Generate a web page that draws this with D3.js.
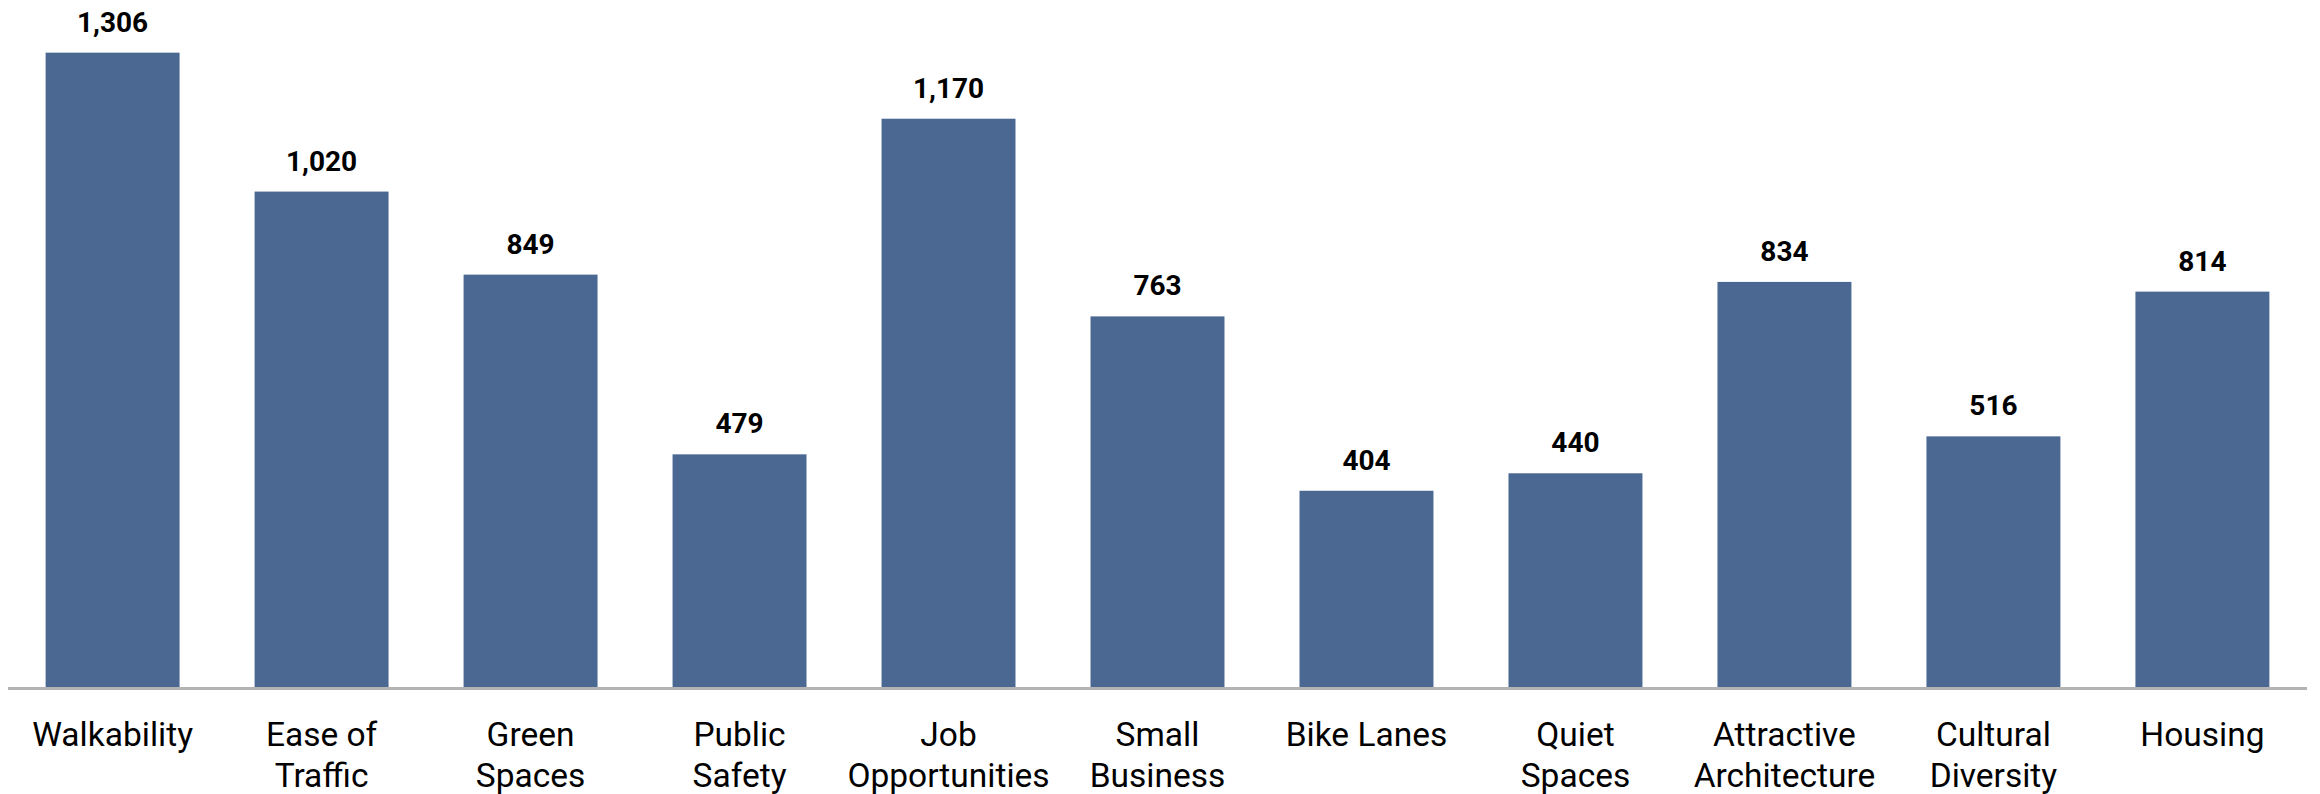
<!DOCTYPE html>
<html>
<head>
<meta charset="utf-8">
<script src="https://cdn.jsdelivr.net/npm/d3@7"></script>
<style>
  html, body { margin: 0; padding: 0; background: #ffffff; }
  svg { display: block; }
</style>
</head>
<body>
<div id="chart"></div>
<script>
const categories = ["Walkability", "Ease of Traffic", "Green Spaces", "Public Safety", "Job Opportunities", "Small Business", "Bike Lanes", "Quiet Spaces", "Attractive Architecture", "Cultural Diversity", "Housing"];
const labelLines = [["Walkability"], ["Ease of", "Traffic"], ["Green", "Spaces"], ["Public", "Safety"], ["Job", "Opportunities"], ["Small", "Business"], ["Bike Lanes"], ["Quiet", "Spaces"], ["Attractive", "Architecture"], ["Cultural", "Diversity"], ["Housing"]];
const values = [1306, 1020, 849, 479, 1170, 763, 404, 440, 834, 516, 814];
const yDomain = [0, 1400];

const W = 2320, H = 794;
const left = 8, right = 2307, baseY = 687, topY = 7;

const svg = d3.select("#chart").append("svg").attr("width", W).attr("height", H);

const x = d3.scaleBand().domain(categories).range([left, right]).paddingInner(0.359).paddingOuter(0.18);
const y = d3.scaleLinear().domain(yDomain).range([baseY, topY]);

svg.append("g").selectAll("rect").data(values).join("rect")
  .attr("x", (d, i) => x(categories[i]))
  .attr("y", d => y(d))
  .attr("width", x.bandwidth())
  .attr("height", d => y(0) - y(d))
  .attr("fill", "#4a6892");

svg.append("g").selectAll("text").data(values).join("text")
  .attr("x", (d, i) => x(categories[i]) + x.bandwidth() / 2)
  .attr("y", d => y(d) - 21)
  .attr("text-anchor", "middle")
  .attr("font-family", "Roboto, sans-serif")
  .attr("font-weight", "bold")
  .attr("font-size", 28)
  .attr("fill", "#000")
  .text(d => d3.format(",")(d));

svg.append("line")
  .attr("x1", left).attr("x2", right)
  .attr("y1", baseY + 1.5).attr("y2", baseY + 1.5)
  .attr("stroke", "#b3b3b3").attr("stroke-width", 3);

const lab = svg.append("g").selectAll("text").data(categories).join("text")
  .attr("text-anchor", "middle")
  .attr("font-family", "Roboto, sans-serif")
  .attr("font-size", 33.5)
  .attr("fill", "#000")
  .attr("x", d => x(d) + x.bandwidth() / 2)
  .attr("y", 746);
lab.each(function(d, i) {
  const t = d3.select(this);
  labelLines[i].forEach((ln, j) => {
    t.append("tspan").attr("x", x(d) + x.bandwidth() / 2).attr("y", 746 + j * 40.7).text(ln);
  });
});
</script>
</body>
</html>
